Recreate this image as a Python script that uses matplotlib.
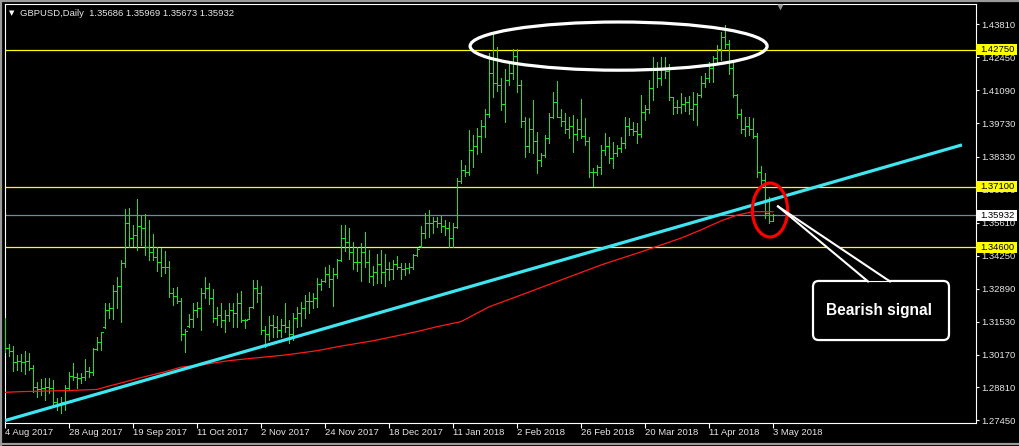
#!/usr/bin/env python3
"""GBPUSD daily bar chart (MT4 style) with trendline, levels and a bearish signal callout."""

import matplotlib

matplotlib.use("Agg")
import matplotlib.patches as patches
import matplotlib.pyplot as plt
import matplotlib.transforms as mtransforms
from matplotlib import font_manager

SYMBOL = "GBPUSD,Daily"
LAST_QUOTE = [1.35686, 1.35969, 1.35673, 1.35932]

# daily OHLC, one bar per trading day from 4 Aug 2017 to 3 May 2018
bar_open = [
    1.3150, 1.3045, 1.3030, 1.2985, 1.2990, 1.2985, 1.2990, 1.2960, 1.2885, 1.2875,
    1.2880, 1.2885, 1.2880, 1.2820, 1.2810, 1.2820, 1.2880, 1.2930, 1.2925, 1.2920,
    1.2925, 1.2950, 1.2945, 1.3040, 1.3070, 1.3130, 1.3200, 1.3210, 1.3280, 1.3300,
    1.3395, 1.3560, 1.3500, 1.3510, 1.3550, 1.3540, 1.3460, 1.3440, 1.3420, 1.3400,
    1.3380, 1.3380, 1.3270, 1.3260, 1.3240, 1.3100, 1.3135, 1.3165, 1.3200, 1.3210,
    1.3270, 1.3290, 1.3250, 1.3170, 1.3180, 1.3160, 1.3180, 1.3200, 1.3190, 1.3230,
    1.3158, 1.3165, 1.3212, 1.3290, 1.3270, 1.3120, 1.3100, 1.3140, 1.3130, 1.3120,
    1.3140, 1.3130, 1.3100, 1.3170, 1.3190, 1.3210, 1.3240, 1.3240, 1.3250, 1.3310,
    1.3320, 1.3350, 1.3330, 1.3350, 1.3408, 1.3500, 1.3480, 1.3440, 1.3400, 1.3400,
    1.3440, 1.3400, 1.3340, 1.3360, 1.3390, 1.3360, 1.3370, 1.3370, 1.3390, 1.3380,
    1.3370, 1.3375, 1.3380, 1.3428, 1.3465, 1.3520, 1.3560, 1.3560, 1.3570, 1.3560,
    1.3550, 1.3540, 1.3500, 1.3545, 1.3735, 1.3780, 1.3770, 1.3860, 1.3880, 1.3920,
    1.3960, 1.4010, 1.4180, 1.4140, 1.4130, 1.4050, 1.4150, 1.4180, 1.4250, 1.4130,
    1.3980, 1.3880, 1.3950, 1.3900, 1.3820, 1.3840, 1.3910, 1.4000, 1.4060, 1.4000,
    1.3980, 1.3950, 1.3960, 1.3930, 1.3950, 1.3920, 1.3900, 1.3770, 1.3770, 1.3790,
    1.3860, 1.3880, 1.3830, 1.3850, 1.3870, 1.3890, 1.3960, 1.3950, 1.3940, 1.3930,
    1.4020, 1.4030, 1.4120, 1.4200, 1.4160, 1.4200, 1.4190, 1.4080, 1.4040, 1.4040,
    1.4050, 1.4060, 1.4030, 1.4050, 1.4090, 1.4140, 1.4160, 1.4200, 1.4240, 1.4280,
    1.4330, 1.4300, 1.4200, 1.4090, 1.4010, 1.3950, 1.3960, 1.3950, 1.3920, 1.3770,
    1.3740, 1.3600, 1.35686,
]
bar_high = [
    1.3167, 1.3061, 1.3052, 1.3015, 1.3019, 1.3032, 1.3022, 1.2974, 1.2905, 1.2915,
    1.2919, 1.2919, 1.2912, 1.2836, 1.2843, 1.2891, 1.2946, 1.2981, 1.2940, 1.2940,
    1.2998, 1.2967, 1.3043, 1.3091, 1.3112, 1.3229, 1.3229, 1.3304, 1.3339, 1.3408,
    1.3617, 1.3621, 1.3552, 1.3660, 1.3589, 1.3596, 1.3573, 1.3515, 1.3463, 1.3456,
    1.3445, 1.3404, 1.3291, 1.3295, 1.3249, 1.3123, 1.3183, 1.3229, 1.3235, 1.3291,
    1.3339, 1.3311, 1.3287, 1.3212, 1.3229, 1.3201, 1.3229, 1.3229, 1.3273, 1.3280,
    1.3163, 1.3215, 1.3325, 1.3325, 1.3300, 1.3135, 1.3176, 1.3180, 1.3176, 1.3163,
    1.3231, 1.3160, 1.3190, 1.3215, 1.3235, 1.3263, 1.3277, 1.3273, 1.3332, 1.3328,
    1.3380, 1.3387, 1.3373, 1.3411, 1.3552, 1.3552, 1.3539, 1.3483, 1.3463, 1.3477,
    1.3525, 1.3449, 1.3383, 1.3432, 1.3449, 1.3432, 1.3401, 1.3408, 1.3424, 1.3394,
    1.3396, 1.3394, 1.3432, 1.3458, 1.3548, 1.3601, 1.3614, 1.3586, 1.3586, 1.3589,
    1.3573, 1.3566, 1.3559, 1.3746, 1.3821, 1.3800, 1.3945, 1.3924, 1.3952, 1.3986,
    1.4030, 1.4261, 1.4346, 1.4289, 1.4158, 1.4195, 1.4222, 1.4278, 1.4278, 1.4151,
    1.3999, 1.3993, 1.4068, 1.3938, 1.3848, 1.3924, 1.4016, 1.4103, 1.4147, 1.4030,
    1.4016, 1.3997, 1.4006, 1.3989, 1.4071, 1.3993, 1.3917, 1.3786, 1.3800, 1.3883,
    1.3931, 1.3917, 1.3896, 1.3883, 1.3917, 1.3997, 1.3993, 1.3979, 1.3972, 1.4089,
    1.4048, 1.4151, 1.4245, 1.4227, 1.4245, 1.4247, 1.4217, 1.4082, 1.4068, 1.4099,
    1.4082, 1.4085, 1.4103, 1.4099, 1.4168, 1.4181, 1.4227, 1.4250, 1.4296, 1.4351,
    1.4378, 1.4316, 1.4234, 1.4093, 1.4030, 1.3999, 1.3997, 1.3993, 1.3933, 1.3796,
    1.3768, 1.3669, 1.35969,
]
bar_low = [
    1.3029, 1.3011, 1.2950, 1.2953, 1.2950, 1.2938, 1.2953, 1.2864, 1.2843, 1.2850,
    1.2829, 1.2857, 1.2809, 1.2788, 1.2774, 1.2788, 1.2871, 1.2912, 1.2878, 1.2898,
    1.2912, 1.2926, 1.2933, 1.3036, 1.3036, 1.3126, 1.3167, 1.3163, 1.3208, 1.3152,
    1.3380, 1.3463, 1.3465, 1.3449, 1.3470, 1.3428, 1.3408, 1.3408, 1.3363, 1.3342,
    1.3353, 1.3256, 1.3222, 1.3231, 1.3077, 1.3028, 1.3132, 1.3132, 1.3173, 1.3119,
    1.3249, 1.3226, 1.3153, 1.3139, 1.3132, 1.3110, 1.3157, 1.3132, 1.3132, 1.3153,
    1.3126, 1.3163, 1.3208, 1.3235, 1.3102, 1.3048, 1.3077, 1.3091, 1.3091, 1.3088,
    1.3112, 1.3064, 1.3077, 1.3132, 1.3135, 1.3167, 1.3188, 1.3208, 1.3215, 1.3284,
    1.3316, 1.3297, 1.3218, 1.3332, 1.3405, 1.3445, 1.3411, 1.3369, 1.3362, 1.3321,
    1.3377, 1.3318, 1.3304, 1.3311, 1.3314, 1.3300, 1.3325, 1.3328, 1.3369, 1.3329,
    1.3346, 1.3353, 1.3369, 1.3424, 1.3460, 1.3497, 1.3501, 1.3520, 1.3543, 1.3525,
    1.3511, 1.3463, 1.3463, 1.3540, 1.3727, 1.3755, 1.3759, 1.3793, 1.3845, 1.3855,
    1.3917, 1.3997, 1.4082, 1.4107, 1.4027, 1.3979, 1.4130, 1.4154, 1.4103, 1.3956,
    1.3834, 1.3855, 1.3848, 1.3766, 1.3796, 1.3832, 1.3892, 1.3993, 1.3999, 1.3961,
    1.3931, 1.3910, 1.3855, 1.3903, 1.3910, 1.3883, 1.3752, 1.3713, 1.3759, 1.3763,
    1.3841, 1.3807, 1.3786, 1.3837, 1.3855, 1.3869, 1.3924, 1.3924, 1.3892, 1.3917,
    1.3986, 1.4016, 1.4068, 1.4123, 1.4130, 1.4158, 1.4068, 1.4011, 1.4013, 1.4016,
    1.4024, 1.4011, 1.3986, 1.3965, 1.4080, 1.4123, 1.4144, 1.4144, 1.4220, 1.4234,
    1.4282, 1.4176, 1.4082, 1.3993, 1.3931, 1.3920, 1.3924, 1.3910, 1.3752, 1.3710,
    1.3581, 1.3562, 1.35673,
]
bar_close = [
    1.3045, 1.3030, 1.2985, 1.2990, 1.2985, 1.2990, 1.2960, 1.2885, 1.2875, 1.2880,
    1.2885, 1.2880, 1.2820, 1.2810, 1.2820, 1.2880, 1.2930, 1.2925, 1.2920, 1.2925,
    1.2950, 1.2945, 1.3040, 1.3070, 1.3110, 1.3200, 1.3210, 1.3280, 1.3300, 1.3395,
    1.3560, 1.3500, 1.3510, 1.3550, 1.3540, 1.3460, 1.3440, 1.3420, 1.3400, 1.3380,
    1.3380, 1.3270, 1.3260, 1.3240, 1.3100, 1.3115, 1.3165, 1.3200, 1.3210, 1.3270,
    1.3290, 1.3250, 1.3170, 1.3180, 1.3160, 1.3180, 1.3200, 1.3190, 1.3230, 1.3158,
    1.3160, 1.3212, 1.3290, 1.3270, 1.3120, 1.3100, 1.3140, 1.3130, 1.3120, 1.3140,
    1.3130, 1.3100, 1.3170, 1.3190, 1.3210, 1.3240, 1.3240, 1.3250, 1.3310, 1.3320,
    1.3350, 1.3330, 1.3350, 1.3408, 1.3500, 1.3480, 1.3440, 1.3400, 1.3400, 1.3440,
    1.3400, 1.3340, 1.3360, 1.3390, 1.3360, 1.3370, 1.3370, 1.3390, 1.3380, 1.3370,
    1.3375, 1.3380, 1.3428, 1.3455, 1.3520, 1.3560, 1.3560, 1.3570, 1.3560, 1.3550,
    1.3540, 1.3500, 1.3545, 1.3735, 1.3780, 1.3770, 1.3860, 1.3880, 1.3920, 1.3960,
    1.4010, 1.4180, 1.4140, 1.4130, 1.4050, 1.4150, 1.4180, 1.4250, 1.4130, 1.3980,
    1.3880, 1.3950, 1.3900, 1.3820, 1.3840, 1.3910, 1.4000, 1.4060, 1.4000, 1.3980,
    1.3950, 1.3960, 1.3930, 1.3950, 1.3920, 1.3900, 1.3770, 1.3770, 1.3790, 1.3860,
    1.3880, 1.3830, 1.3850, 1.3870, 1.3890, 1.3960, 1.3950, 1.3940, 1.3930, 1.4020,
    1.4030, 1.4120, 1.4200, 1.4160, 1.4200, 1.4190, 1.4080, 1.4040, 1.4040, 1.4050,
    1.4060, 1.4030, 1.4050, 1.4090, 1.4140, 1.4160, 1.4200, 1.4240, 1.4280, 1.4330,
    1.4300, 1.4200, 1.4090, 1.4010, 1.3950, 1.3960, 1.3950, 1.3920, 1.3770, 1.3740,
    1.3600, 1.3569, 1.35932,
]

# moving average (red), read at a few bars
ma_bars = [0, 4, 15, 23, 26, 30, 35, 40, 44, 49, 56, 62, 70, 78, 84, 92, 97, 103,
           108, 114, 121, 129, 139, 149, 159, 169, 174, 179, 183, 187, 192]
ma_values = [1.2861, 1.2864, 1.2868, 1.2873, 1.2887, 1.2904, 1.2926, 1.2946, 1.2965,
             1.2974, 1.2992, 1.3002, 1.3015, 1.3033, 1.3052, 1.3074, 1.3091, 1.3112,
             1.3132, 1.3153, 1.3214, 1.3263, 1.3325, 1.3387, 1.3441, 1.3498, 1.3532,
             1.3569, 1.3593, 1.3607, 1.3607]

# trendline anchors (bar, price)
trend_bars = [-0.5, 239.25]
trend_prices = [1.2742, 1.3883]

levels = [1.42750, 1.37100, 1.34600]
bid_price = 1.35932

date_labels = ["4 Aug 2017", "28 Aug 2017", "19 Sep 2017", "11 Oct 2017", "2 Nov 2017",
               "24 Nov 2017", "18 Dec 2017", "11 Jan 2018", "2 Feb 2018", "26 Feb 2018",
               "20 Mar 2018", "11 Apr 2018", "3 May 2018"]
date_label_bars = [0, 16, 32, 48, 64, 80, 96, 112, 128, 144, 160, 176, 192]

price_ticks = [1.43810, 1.42450, 1.41090, 1.39730, 1.38330, 1.36970, 1.35610,
               1.34250, 1.32890, 1.31530, 1.30170, 1.28810, 1.27450]

BAR_GREEN = "#22e022"
TEXT = "#e6e6e6"
FONT = ["Liberation Sans", "DejaVu Sans"]

W, H = 1020, 446


def main():
    fig = plt.figure(figsize=(W / 100, H / 100), dpi=100, facecolor="black")
    # plot frame in pixels: x 4.7..975.7, y 4..422.7 (from top)
    ax = fig.add_axes([4.7 / W, 1 - 422.7 / H, 971 / W, 418.7 / H], facecolor="black")
    ax.set_xlim(-0.075, 242.675)
    ax.set_ylim(1.27356, 1.44649)

    n = len(bar_close)
    x = list(range(n))
    ax.vlines(x, bar_low, bar_high, color=BAR_GREEN, lw=0.72, antialiased=False, zorder=3)
    ax.hlines(bar_open, [i - 0.4 for i in x], x, color=BAR_GREEN, lw=0.72, antialiased=False, zorder=3)
    ax.hlines(bar_close, x, [i + 0.4 for i in x], color=BAR_GREEN, lw=0.72, antialiased=False, zorder=3)

    # horizontal levels and bid line
    for lv in levels:
        ax.axhline(lv, color="#ffff00", lw=0.9, zorder=2)
    ax.axhline(bid_price, color="#778899", lw=0.9, zorder=2)

    # moving average and trendline
    ax.plot(ma_bars, ma_values, color="#ff1a1a", lw=0.9, zorder=4)
    ax.plot(trend_bars, trend_prices, color="#3ee6f2", lw=2.3, solid_capstyle="butt", zorder=5)

    # ellipses
    ax.add_patch(patches.Ellipse((153.4, 1.4291), 74.25, 0.0199, fill=False,
                                 ec="white", lw=2.3, zorder=6))
    ax.add_patch(patches.Ellipse((191.25, 1.3614), 8.8, 0.0223, fill=False,
                                 ec="#ff0000", lw=2.3, zorder=6))

    # callout box
    box = patches.FancyBboxPatch((202, 1.3077), 34, 0.0244,
                                 boxstyle="round,pad=0,rounding_size=1.4",
                                 mutation_aspect=0.0017, fc="black", ec="white", lw=1.6, zorder=7)
    ax.add_patch(box)
    pointer = patches.Polygon([(193.25, 1.3629), (215.75, 1.3321), (221.25, 1.3321)],
                              closed=True, fc="black", ec="none", zorder=8)
    ax.add_patch(pointer)
    ax.plot([193.25, 215.75], [1.3629, 1.3319], color="white", lw=1.5, zorder=9)
    ax.plot([193.25, 221.25], [1.3629, 1.3319], color="white", lw=1.5, zorder=9)

    names = {f.name for f in font_manager.fontManager.ttflist}
    if "Liberation Sans Narrow" in names:
        cfam, csize = ["Liberation Sans Narrow", "DejaVu Sans"], 13.5
    else:
        cfam, csize = FONT, 11.2
    ax.text(218.6, 1.3199, "Bearish signal", color="white", fontsize=csize, fontweight="bold",
            family=cfam, ha="center", va="center", zorder=10)

    # axes styling
    for sp in ax.spines.values():
        sp.set_color("white")
        sp.set_linewidth(0.8)
    ax.yaxis.tick_right()
    ax.set_yticks(price_ticks)
    ax.set_yticklabels([f"{p:.5f}" for p in price_ticks])
    ax.tick_params(axis="y", colors="white", labelcolor=TEXT, length=2.2, width=0.8,
                   pad=1.8, labelsize=6.8, direction="out")
    ax.set_xticks(date_label_bars)
    ax.set_xticklabels(date_labels)
    for lbl in ax.get_xticklabels():
        lbl.set_horizontalalignment("left")
    ax.tick_params(axis="x", colors="white", labelcolor=TEXT, length=3.3, width=0.8,
                   pad=0.6, labelsize=6.8, direction="out")
    for lbl in ax.get_xticklabels() + ax.get_yticklabels():
        lbl.set_family(FONT)

    # highlighted price labels on the right scale (they cover the scale labels below them)
    side = mtransforms.blended_transform_factory(fig.transFigure, ax.transData)
    box_h = 11 * 0.000413
    for price, fc in [(p, "#ffff00") for p in levels] + [(bid_price, "white")]:
        ax.add_patch(patches.Rectangle((976.5 / W, price - box_h / 2), 40.5 / W, box_h,
                                       transform=side, fc=fc, ec="none", clip_on=False, zorder=11))
        ax.text(980.5 / W, price, f"{price:.5f}", transform=side, color="black", fontsize=6.8,
                family=FONT, ha="left", va="center", clip_on=False, zorder=12)

    # header
    fig.text(20 / W, 1 - 13 / H, f"{SYMBOL}  " + " ".join(f"{v:.5f}" for v in LAST_QUOTE),
             color=TEXT, fontsize=6.8, family=FONT, ha="left", va="center")
    fig.text(11.5 / W, 1 - 13.5 / H, "\u25bc", color="white", fontsize=5, family=["DejaVu Sans"],
             ha="center", va="center")
    ax.plot([193.75], [1.4452], marker="v", ms=5, color="#909090", mec="none",
            clip_on=False, zorder=12)

    # window border
    for xs, ys in [([0.5, 0.5], [0, H]), ([0, W], [H - 0.8, H - 0.8]), ([0, W], [2.5, 2.5])]:
        fig.add_artist(plt.Line2D([v / W for v in xs], [v / H for v in ys], color="#9a9a9a", lw=1.6))

    fig.savefig("out.png", dpi=100, facecolor="black")
    plt.close(fig)


if __name__ == "__main__":
    main()
